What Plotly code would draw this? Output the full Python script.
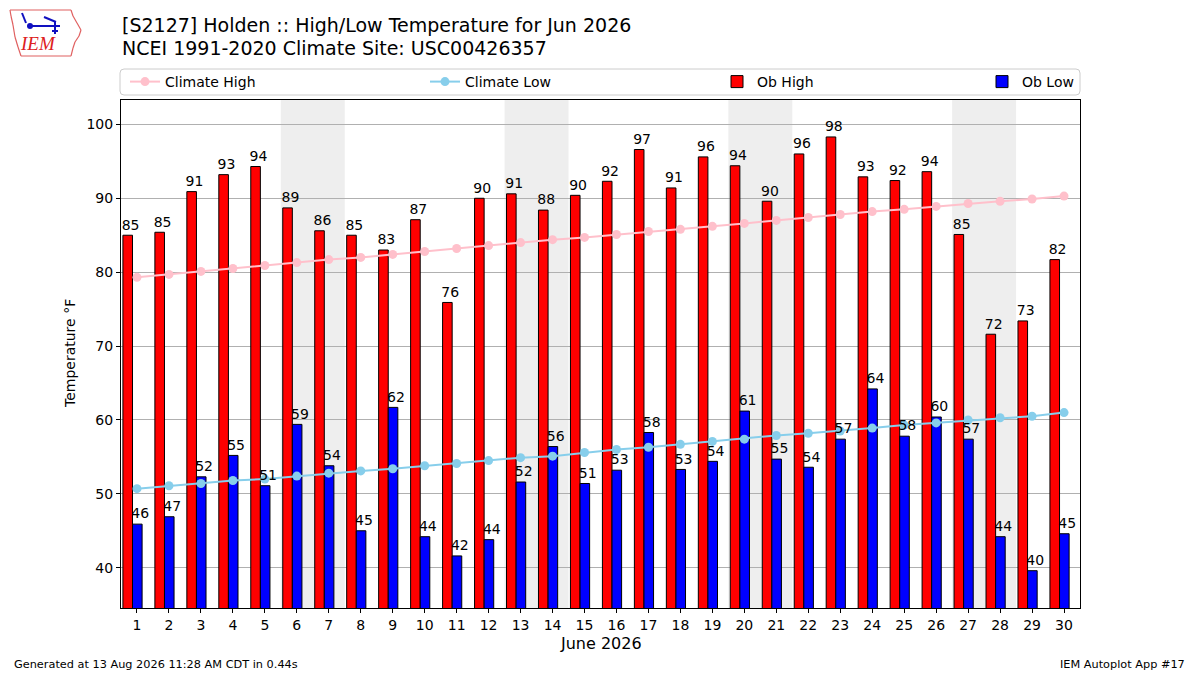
import plotly.graph_objects as go

# June 2026 daily data, Holden
days = list(range(1, 31))
ob_high = [85.0, 85.4, 90.9, 93.2, 94.3, 88.7, 85.6, 85.0, 83.0, 87.1,
           75.9, 90.0, 90.6, 88.4, 90.4, 92.3, 96.6, 91.4, 95.6, 94.4,
           89.6, 96.0, 98.3, 92.9, 92.4, 93.6, 85.1, 71.6, 73.4, 81.7]
ob_low = [45.9, 46.9, 52.3, 55.2, 51.1, 59.4, 53.8, 45.0, 61.7, 44.2,
          41.6, 43.8, 51.6, 56.4, 51.4, 53.2, 58.3, 53.3, 54.4, 61.2,
          54.7, 53.6, 57.4, 64.2, 57.8, 60.4, 57.4, 44.2, 39.6, 44.6]
clim_high = [79.3, 79.7, 80.1, 80.5, 80.9, 81.3, 81.7, 82.0, 82.4, 82.8,
             83.2, 83.6, 84.0, 84.4, 84.7, 85.1, 85.5, 85.8, 86.2, 86.6,
             87.0, 87.4, 87.8, 88.2, 88.5, 88.9, 89.3, 89.6, 89.9, 90.3]
clim_low = [50.7, 51.1, 51.4, 51.8, 52.0, 52.4, 52.8, 53.1, 53.4, 53.8,
            54.1, 54.5, 54.9, 55.1, 55.6, 56.0, 56.3, 56.7, 57.1, 57.4,
            57.9, 58.2, 58.5, 58.9, 59.3, 59.6, 60.0, 60.3, 60.5, 61.0]
weekend_starts = [6, 13, 20, 27]
yticks = [40, 50, 60, 70, 80, 90, 100]

FONT = "DejaVu Sans"

# the page puts the figure 8px in from the top-left corner
OFF = 8
W_FIG, H_FIG = 1200 - OFF, 675 - OFF

# plot area in window pixels
L, R, T, B = 121, 1080, 100, 608


def px(x):
    return (x - L) / (R - L)


def py(y):
    return (B - y) / (B - T)


fig = go.Figure()

fig.add_trace(go.Bar(x=days, y=ob_high, name="Ob High", width=0.3, offset=-0.44,
                     marker=dict(color="red", line=dict(color="black", width=1)),
                     legend="legend3", hoverinfo="skip"))
fig.add_trace(go.Bar(x=days, y=ob_low, name="Ob Low", width=0.3, offset=-0.14,
                     marker=dict(color="blue", line=dict(color="black", width=1)),
                     legend="legend4", hoverinfo="skip"))
fig.add_trace(go.Scatter(x=days, y=clim_high, name="Climate High", mode="lines+markers",
                         line=dict(color="pink", width=2), marker=dict(size=9, color="pink"),
                         legend="legend", hoverinfo="skip"))
fig.add_trace(go.Scatter(x=days, y=clim_low, name="Climate Low", mode="lines+markers",
                         line=dict(color="skyblue", width=2), marker=dict(size=9, color="skyblue"),
                         legend="legend2", hoverinfo="skip"))

# value labels above bars
fig.add_trace(go.Scatter(x=[d - 0.2 for d in days], y=[v + 0.3 for v in ob_high], mode="text",
                         text=[f"{v:.0f}" for v in ob_high], textposition="top center",
                         textfont=dict(family=FONT, size=14, color="black"),
                         showlegend=False, cliponaxis=False, hoverinfo="skip"))
fig.add_trace(go.Scatter(x=[d + 0.1 for d in days], y=[v + 0.3 for v in ob_low], mode="text",
                         text=[f"{v:.0f}" for v in ob_low], textposition="top center",
                         textfont=dict(family=FONT, size=14, color="black"),
                         showlegend=False, cliponaxis=False, hoverinfo="skip"))

# weekend shading
for d in weekend_starts:
    fig.add_shape(type="rect", xref="x", yref="paper", x0=d - 0.5, x1=d + 1.5, y0=0, y1=1,
                  fillcolor="#eeeeee", line=dict(width=0), layer="below")

# legend frame with rounded corners
x0, x1, y0, y1 = px(120), px(1080), py(95), py(69)
rx, ry = 4 / (R - L), 4 / (B - T)
frame = (f"M {x0 + rx},{y0} L {x1 - rx},{y0} Q {x1},{y0} {x1},{y0 + ry} "
         f"L {x1},{y1 - ry} Q {x1},{y1} {x1 - rx},{y1} L {x0 + rx},{y1} "
         f"Q {x0},{y1} {x0},{y1 - ry} L {x0},{y0 + ry} Q {x0},{y0} {x0 + rx},{y0} Z")
fig.add_shape(type="path", xref="paper", yref="paper", path=frame,
              line=dict(color="#cccccc", width=1), fillcolor="white", layer="above")

# IEM logo (approximation)
iowa = [(10, 10), (71, 10), (73, 16), (77, 23), (81, 30), (79, 36), (75, 42), (73, 48),
        (71, 56), (21, 56), (18, 47), (15, 37), (13, 25), (11, 16), (10, 10)]
for (a1, b1), (a2, b2) in zip(iowa[:-1], iowa[1:]):
    fig.add_shape(type="line", xref="paper", yref="paper", x0=px(a1), y0=py(b1),
                  x1=px(a2), y1=py(b2), line=dict(color="#e06060", width=1.2), layer="above")
for (a1, b1, a2, b2) in [(30, 26, 60, 26), (22, 13, 26, 23), (44, 17, 56, 22),
                         (55, 21, 55, 34), (52, 31, 58, 31)]:
    fig.add_shape(type="line", xref="paper", yref="paper", x0=px(a1), y0=py(b1),
                  x1=px(a2), y1=py(b2), line=dict(color="#1010c0", width=2), layer="above")
fig.add_shape(type="circle", xref="paper", yref="paper", x0=px(27), x1=px(33),
              y0=py(29), y1=py(23), fillcolor="#1010c0", line=dict(width=0), layer="above")

annotations = [
    dict(text="<i>IEM</i>", x=px(38), y=py(44), font=dict(family="Liberation Serif", size=19, color="#dd2020")),
    dict(text="[S2127] Holden :: High/Low Temperature for Jun 2026", x=px(120), y=py(25),
         xanchor="left", font=dict(family=FONT, size=19, color="black")),
    dict(text="NCEI 1991-2020 Climate Site: USC00426357", x=px(120), y=py(48),
         xanchor="left", font=dict(family=FONT, size=19, color="black")),
    dict(text="June 2026", x=0.5, y=py(643), font=dict(family=FONT, size=16, color="black")),
    dict(text="Temperature °F", x=px(70), y=0.5, textangle=-90,
         font=dict(family=FONT, size=14, color="black")),
    dict(text="Generated at 13 Aug 2026 11:28 AM CDT in 0.44s", x=px(12), y=py(664),
         xanchor="left", font=dict(family=FONT, size=11.3, color="black")),
    dict(text="IEM Autoplot App #17", x=px(1187), y=py(664),
         xanchor="right", font=dict(family=FONT, size=11.3, color="black")),
]
for a in annotations:
    a.setdefault("xanchor", "center")
    fig.add_annotation(xref="paper", yref="paper", showarrow=False, yanchor="middle", **a)

leg = dict(y=py(82), yanchor="middle", xanchor="left", bgcolor="rgba(0,0,0,0)",
           borderwidth=0, font=dict(family=FONT, size=14, color="black"),
           orientation="h")

fig.update_layout(
    width=W_FIG, height=H_FIG,
    margin=dict(l=L - OFF, r=1200 - R, t=T - OFF, b=675 - B),
    paper_bgcolor="white", plot_bgcolor="white",
    barmode="overlay",
    font=dict(family=FONT, size=14, color="black"),
    legend=dict(x=px(125), **leg),
    legend2=dict(x=px(425), **leg),
    legend3=dict(x=px(717), **leg),
    legend4=dict(x=px(982), **leg),
    xaxis=dict(range=[0.5, 30.5], tickmode="array", tickvals=days, ticktext=[str(d) for d in days],
               showgrid=False, zeroline=False, showline=True, linecolor="black", linewidth=1,
               mirror=True, ticks="outside", ticklen=4, tickcolor="black",
               tickfont=dict(family=FONT, size=14)),
    yaxis=dict(range=[34.55, 103.3], tickmode="array", tickvals=yticks,
               showgrid=True, gridcolor="#b0b0b0", gridwidth=1, zeroline=False,
               showline=True, linecolor="black", linewidth=1, mirror=True,
               ticks="outside", ticklen=4, tickcolor="black",
               tickfont=dict(family=FONT, size=14)),
)

fig.write_html("out.html")
